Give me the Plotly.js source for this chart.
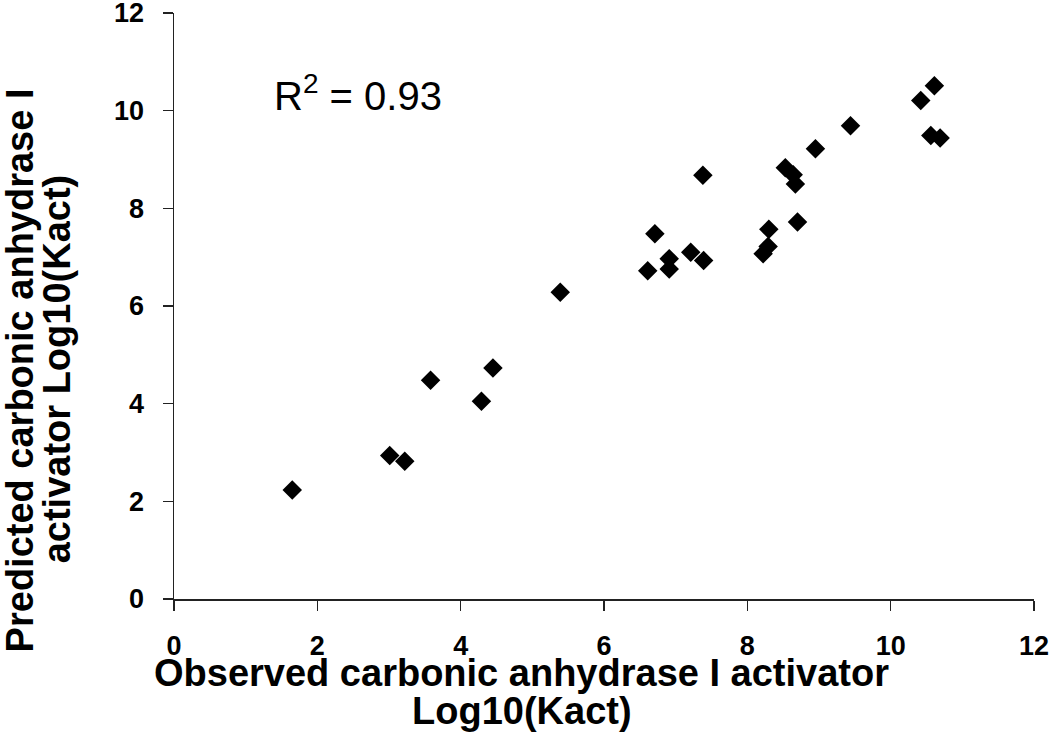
<!DOCTYPE html>
<html>
<head>
<meta charset="utf-8">
<script src="https://cdn.plot.ly/plotly-3.0.1.min.js"></script>
<style>html,body{margin:0;padding:0;background:#fff;}#chart{width:1050px;height:734px;}</style>
</head>
<body>
<div id="chart"></div>
<script>
// Observed vs predicted log10(Kact)
const observed = [1.65, 3.01, 3.22, 3.58, 4.29, 4.45, 5.39, 6.61, 6.71, 6.91, 6.91, 7.21, 7.39, 7.38, 8.22, 8.29, 8.30, 8.70, 8.53, 8.64, 8.67, 8.95, 9.44, 10.42, 10.61, 10.56, 10.69];
const predicted = [2.23, 2.94, 2.82, 4.48, 4.05, 4.73, 6.28, 6.72, 7.48, 6.97, 6.76, 7.10, 6.93, 8.68, 7.07, 7.22, 7.57, 7.72, 8.83, 8.69, 8.50, 9.22, 9.69, 10.21, 10.51, 9.49, 9.44];
const tickVals = [0, 2, 4, 6, 8, 10, 12];
const tickText = ['0', '2', '4', '6', '8', '10', '12'];
const xTitleLines = ['Observed carbonic anhydrase I activator', 'Log10(Kact)'];
const yTitleLines = ['Predicted carbonic anhydrase I', 'activator Log10(Kact)'];
const r2Label = 'R<sup>2</sup> = 0.93';

const FONT = 'Liberation Sans, Arial, sans-serif';
const titleFont = {family: FONT, size: 38, color: '#000', weight: 'bold'};

const trace = {
  x: observed, y: predicted, type: 'scatter', mode: 'markers',
  marker: {symbol: 'diamond', size: 15, color: '#000', line: {width: 0}},
  hoverinfo: 'skip'
};

const axisCommon = {
  range: [0, 12], tickmode: 'array', tickvals: tickVals, ticktext: tickText,
  showgrid: false, zeroline: false, showline: true, linecolor: '#222', linewidth: 1.5,
  ticks: 'outside', ticklen: 10, tickwidth: 1.5, tickcolor: '#222',
  tickfont: {family: FONT, size: 27, color: '#000', weight: 'bold'},
  ticklabeloverflow: 'allow',
  fixedrange: true
};

const layout = {
  width: 1050, height: 734,
  margin: {l: 174, r: 16, t: 13, b: 135},
  paper_bgcolor: '#fff', plot_bgcolor: '#fff',
  showlegend: false,
  xaxis: Object.assign({}, axisCommon, {ticklabelstandoff: 12}),
  yaxis: Object.assign({}, axisCommon, {ticklabelstandoff: 13}),
  annotations: [
    {xref: 'x', yref: 'y', x: 1.37, y: 10.36, xanchor: 'left', yanchor: 'middle', showarrow: false,
     text: r2Label, font: {family: FONT, size: 40, color: '#000'}},
    {xref: 'paper', yref: 'paper', x: 0.4035, y: -0.127, xanchor: 'center', yanchor: 'middle', showarrow: false,
     text: xTitleLines[0], font: titleFont},
    {xref: 'paper', yref: 'paper', x: 0.405, y: -0.191, xanchor: 'center', yanchor: 'middle', showarrow: false,
     text: xTitleLines[1], font: titleFont},
    {xref: 'paper', yref: 'paper', x: -0.178, y: 0.39, xanchor: 'center', yanchor: 'middle', showarrow: false,
     textangle: -90, text: yTitleLines[0], font: titleFont},
    {xref: 'paper', yref: 'paper', x: -0.136, y: 0.392, xanchor: 'center', yanchor: 'middle', showarrow: false,
     textangle: -90, text: yTitleLines[1], font: titleFont}
  ]
};

Plotly.newPlot('chart', [trace], layout, {displayModeBar: false, staticPlot: true});
</script>
</body>
</html>
